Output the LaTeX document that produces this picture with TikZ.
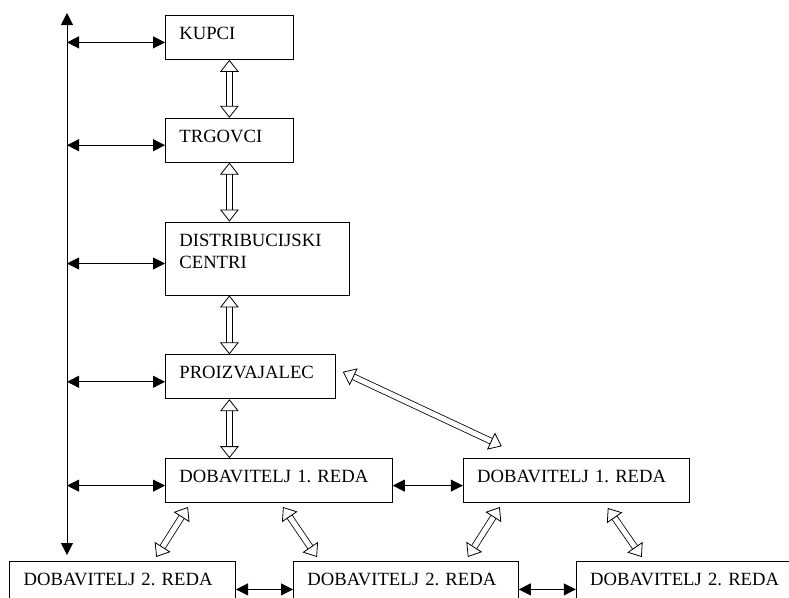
\documentclass[tikz,border=0pt]{standalone}
\usepackage{fontspec}
\setmainfont{Liberation Serif}
\usetikzlibrary{positioning, calc, arrows.meta}
\tikzset{
	entity/.style={draw, rectangle, anchor=north west, line width=0.6pt, inner xsep=10.5pt, inner ysep=0pt, text height=18pt, text depth=15pt, align=left, font=\fontsize{14}{16.5}\selectfont},
	link/.style={line width=0.6pt, {Triangle[length=9pt, width=9pt]}-{Triangle[length=9pt, width=9pt]}},
	% hollow double arrows between the levels
	flow/.style={draw, line width=0.6pt, double=white, double distance=3.8pt, {Triangle[open, length=9pt, width=14pt, line width=0.6pt]}-{Triangle[open, length=9pt, width=14pt, line width=0.6pt]}},
}

\begin{document}
\begin{tikzpicture}[x=0.75pt, y=-0.75pt]
	\useasboundingbox (0,0) rectangle (789,597);
	
	\node (kupci) [entity, text width=75pt] at (165,15) {KUPCI};
	
	\node (trgovci) [entity, text width=75pt, below=43.5pt of kupci.south west, anchor=north west] {TRGOVCI};
	
	\node (distrib) [entity, text width=117pt, text depth=36.75pt, below=44.25pt of trgovci.south west, anchor=north west] {DISTRIBUCIJSKI\\CENTRI};
	
	\node (proizv) [entity, text width=106.5pt, below=44.25pt of distrib.south west, anchor=north west] {PROIZVAJALEC};
	
	\node (dob1a) [entity, text width=149.25pt, below=44.25pt of proizv.south west, anchor=north west] {DOBAVITELJ 1.\ REDA};
	
	\node (dob1b) [entity, text width=148.5pt, right=52.5pt of dob1a.north east, anchor=north west] {DOBAVITELJ 1.\ REDA};
	
	\node (dob2b) [entity, text width=147.75pt, below=43.5pt of dob1a.south west, anchor=north west, xshift=96pt] {DOBAVITELJ 2.\ REDA};
	
	\node (dob2a) [entity, text width=148.5pt, left=42.75pt of dob2b.north west, anchor=north east] {DOBAVITELJ 2.\ REDA};
	
	\node (dob2c) [entity, text width=148.5pt, right=42.75pt of dob2b.north east, anchor=north west] {DOBAVITELJ 2.\ REDA};
	
	\coordinate (bustop) at (67,13);
	\coordinate (busbottom) at (67,555);
	
	\begin{scope}[link]
		\draw (busbottom) -- (bustop);
		\foreach \n in {kupci, trgovci, distrib, proizv, dob1a}
			\draw ($(\n.west -| bustop)+(0,5)$) -- ($(\n.west)+(0,5)$);
		\draw ($(dob1a.east)+(0,5)$) -- ($(dob1b.west)+(0,5)$);
		\draw ($(dob2a.east)+(0,6)$) -- ($(dob2b.west)+(0,6)$);
		\draw ($(dob2b.east)+(0,6)$) -- ($(dob2c.west)+(0,6)$);
	\end{scope}
	
	\draw[flow] (kupci.south) -- (trgovci.north);
	\draw[flow] (trgovci.south) -- (trgovci.south |- distrib.north);
	\draw[flow] (trgovci.south |- distrib.south) -- (trgovci.south |- proizv.north);
	\draw[flow] (trgovci.south |- proizv.south) -- (trgovci.south |- dob1a.north);
	\draw[flow] ([shift={(7,-5)}]proizv.east) -- ([shift={(39,-12)}]dob1b.north west);
	\draw[flow] ([shift={(23,4)}]dob1a.south west) -- ([shift={(147,-4)}]dob2a.north west);
	\draw[flow] ([shift={(118,4)}]dob1a.south west) -- ([shift={(24,-4)}]dob2b.north west);
	\draw[flow] ([shift={(37,4)}]dob1b.south west) -- ([shift={(-51,-4)}]dob2b.north east);
	\draw[flow] ([shift={(145,5)}]dob1b.south west) -- ([shift={(66,-4)}]dob2c.north west);
	
\end{tikzpicture}
\end{document}
